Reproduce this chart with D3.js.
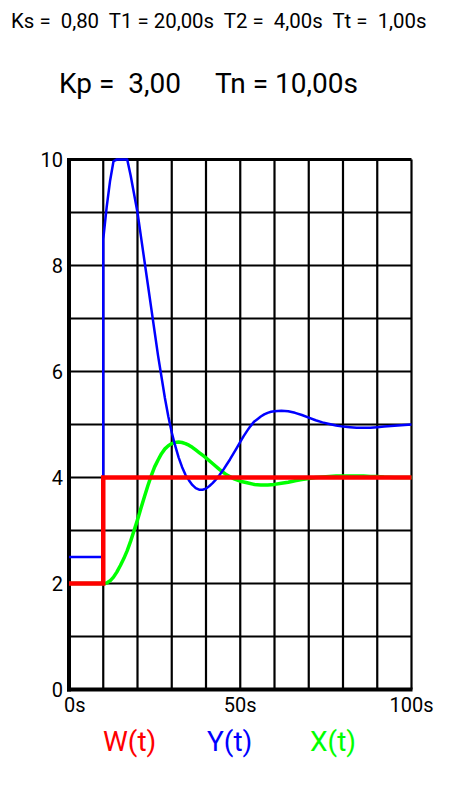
<!DOCTYPE html>
<html>
<head>
<meta charset="utf-8">
<script src="https://cdn.jsdelivr.net/npm/d3@7"></script>
<style>
html,body{margin:0;padding:0;background:#fff;}
svg{display:block;font-family:Roboto,"Noto Sans",sans-serif;}
</style>
</head>
<body>
<svg id="chart" width="450" height="800"></svg>
<script>
// ---- data ----
const paramLine = "Ks =  0,80  T1 = 20,00s  T2 =  4,00s  Tt =  1,00s";
const ctrlLine = "Kp =  3,00     Tn = 10,00s";
const xTicks = [0, 50, 100];
const xTickLabels = ["0s", "50s", "100s"];
const yTicks = [0, 2, 4, 6, 8, 10];
const legendLabels = ["W(t)", "Y(t)", "X(t)"];

// W(t): setpoint
const wT = [0, 10, 10, 100];
const wV = [2, 2, 4, 4];

// Y(t): controller output
const yT = [0, 10, 10, 11, 12, 13, 14, 15, 16, 17, 18, 19, 20, 21, 22, 23, 24, 25, 26, 27, 28, 29, 30,
  31, 32, 33, 34, 35, 36, 37, 38, 39, 40, 41, 42, 43, 44, 45, 46, 47, 48, 49, 50, 51, 52, 53, 54, 55,
  56, 57, 58, 59, 60, 62, 64, 66, 68, 70, 72, 74, 76, 78, 80, 82, 84, 86, 88, 90, 92, 94, 96, 98, 100];
const yV = [2.5, 2.5, 8.5, 9.1, 9.6, 9.97, 10, 10, 10, 10, 9.7, 9.35, 9.0, 8.55, 8.1, 7.65, 7.2, 6.75, 6.3, 5.9, 5.5, 5.15, 4.85,
  4.6, 4.38, 4.2, 4.05, 3.95, 3.86, 3.8, 3.77, 3.77, 3.79, 3.84, 3.9, 3.97, 4.05, 4.14, 4.24, 4.34, 4.45, 4.56, 4.67, 4.78, 4.88, 4.97, 5.05, 5.1,
  5.15, 5.19, 5.22, 5.24, 5.25, 5.26, 5.25, 5.22, 5.18, 5.13, 5.08, 5.04, 5.01, 4.98, 4.96, 4.95, 4.94, 4.94, 4.94, 4.95, 4.96, 4.97, 4.98, 4.99, 5.0];

// X(t): process value
const xT = [0, 10, 11, 12, 13, 14, 15, 16, 17, 18, 19, 20, 21, 22, 23, 24, 25, 26, 27, 28, 29, 30,
  31, 32, 33, 34, 35, 36, 37, 38, 39, 40, 42, 44, 46, 48, 50, 52, 54, 56, 58, 60, 62, 64, 66, 68, 70,
  72, 74, 76, 78, 80, 82, 84, 86, 88, 90, 92, 95, 100];
const xV = [2, 2, 2.01, 2.05, 2.12, 2.22, 2.34, 2.47, 2.62, 2.8, 3.0, 3.2, 3.42, 3.63, 3.84, 4.03, 4.2, 4.33, 4.45, 4.54, 4.6, 4.64,
  4.66, 4.67, 4.66, 4.64, 4.61, 4.57, 4.52, 4.47, 4.42, 4.37, 4.26, 4.15, 4.05, 3.98, 3.93, 3.9, 3.87, 3.86, 3.86, 3.87, 3.89, 3.91, 3.94, 3.96, 3.98,
  4.0, 4.01, 4.02, 4.03, 4.03, 4.03, 4.03, 4.03, 4.02, 4.02, 4.01, 4.0, 4.0];

// ---- drawing ----
const svg = d3.select("#chart");
const x = d3.scaleLinear().domain([0, 100]).range([69, 411.5]);
const y = d3.scaleLinear().domain([0, 10]).range([689.5, 159.5]);

svg.append("text").attr("x", 11).attr("y", 28).attr("font-size", 20.4).attr("fill", "#000")
  .style("white-space", "pre").text(paramLine);
svg.append("text").attr("x", 59).attr("y", 93).attr("font-size", 28).attr("fill", "#000")
  .style("white-space", "pre").text(ctrlLine);

// grid
const g = svg.append("g");
g.selectAll("line.v").data(d3.range(10, 101, 10)).join("line")
  .attr("x1", d => x(d)).attr("x2", d => x(d)).attr("y1", y(10)).attr("y2", y(0))
  .attr("stroke", "#000").attr("stroke-width", 2.2);
g.selectAll("line.h").data(d3.range(1, 11, 1)).join("line")
  .attr("y1", d => y(d)).attr("y2", d => y(d)).attr("x1", x(0)).attr("x2", x(100))
  .attr("stroke", "#000").attr("stroke-width", d => d === 10 ? 3 : 2.2);
// axes
g.append("line").attr("x1", x(0)).attr("x2", x(0)).attr("y1", y(10) - 1.5).attr("y2", y(0) + 2)
  .attr("stroke", "#000").attr("stroke-width", 4);
g.append("line").attr("x1", x(0) - 2).attr("x2", x(100) + 1).attr("y1", y(0)).attr("y2", y(0))
  .attr("stroke", "#000").attr("stroke-width", 4);

// tick labels
svg.selectAll("text.yl").data(yTicks).join("text")
  .attr("x", 63).attr("y", d => y(d) + 7.2).attr("text-anchor", "end")
  .attr("font-size", 20).attr("fill", "#000").text(d => d);
svg.selectAll("text.xl").data(xTicks).join("text")
  .attr("x", (d, i) => i === 0 ? 64 : x(d)).attr("y", 712)
  .attr("text-anchor", (d, i) => i === 0 ? "start" : "middle")
  .attr("font-size", 20).attr("fill", "#000").text((d, i) => xTickLabels[i]);

const line = d3.line().x(d => x(d[0])).y(d => y(d[1]));
const zip = (a, b) => a.map((t, i) => [t, b[i]]);

svg.append("path").attr("d", line(zip(xT, xV))).attr("fill", "none")
  .attr("stroke", "#00ff00").attr("stroke-width", 3.5).attr("stroke-linejoin", "round");
svg.append("path").attr("d", line(zip(yT, yV))).attr("fill", "none")
  .attr("stroke", "#0000ff").attr("stroke-width", 2.5).attr("stroke-linejoin", "round");
svg.append("path").attr("d", line(zip(wT, wV))).attr("fill", "none")
  .attr("stroke", "#ff0000").attr("stroke-width", 4.5);

// legend
const legendX = [103, 207, 310];
const legendColors = ["#ff0000", "#0000ff", "#00ff00"];
svg.selectAll("text.lg").data(legendLabels).join("text")
  .attr("x", (d, i) => legendX[i]).attr("y", 751)
  .attr("font-size", 28).attr("fill", (d, i) => legendColors[i]).text(d => d);
</script>
</body>
</html>
